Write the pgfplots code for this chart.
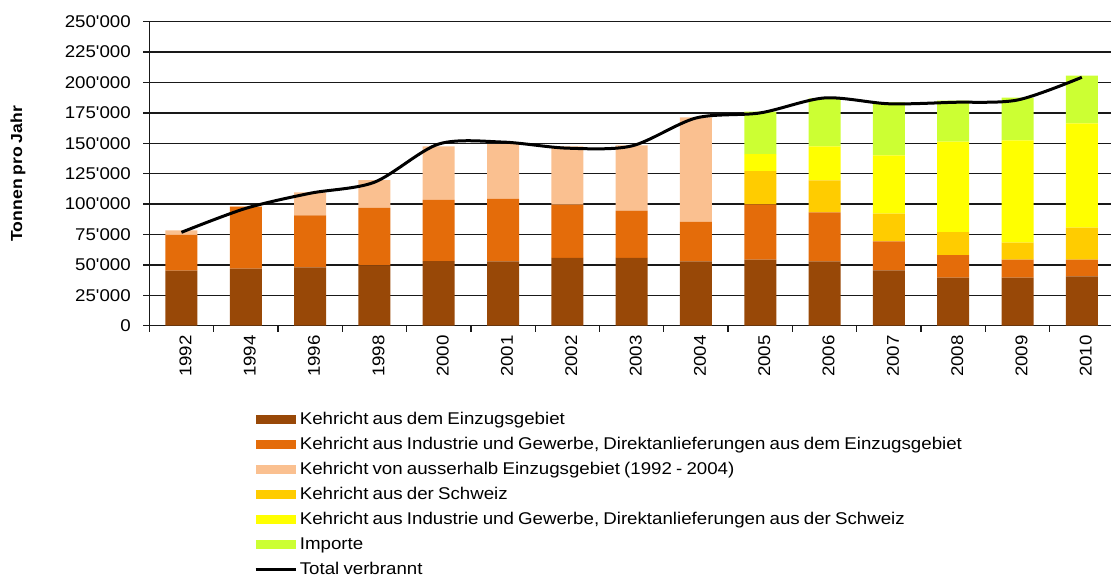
\documentclass[border=0pt]{standalone}
\usepackage{pgfplots}
\pgfplotsset{compat=1.18}
\usepackage{fontspec}
\setmainfont{Liberation Sans}[Ligatures=TeXOff, FakeStretch=1.1, WordSpace=0.8]
\definecolor{cA}{HTML}{984807}
\definecolor{cB}{HTML}{E46C0A}
\definecolor{cC}{HTML}{FAC090}
\definecolor{cD}{HTML}{FFCC00}
\definecolor{cE}{HTML}{FFFF00}
\definecolor{cF}{HTML}{CCFF33}
\begin{document}
\begin{tikzpicture}
\useasboundingbox (0,0) rectangle (1111pt,576pt);
\begin{axis}[
  at={(149.3pt,250.3pt)}, anchor=south west,
  scale only axis, width=964.7pt, height=304pt,
  ybar stacked, bar width=32pt,
  xmin=-0.5, xmax=14.5, ymin=0, ymax=250000,
  axis x line*=bottom, axis y line*=left,
  axis line style={black!90, line width=1.3pt},
  xtick={0,...,14},
  xticklabels={1992,1994,1996,1998,2000,2001,2002,2003,2004,2005,2006,2007,2008,2009,2010},
  minor xtick={-0.5,0.5,...,14.5},
  major x tick style={draw=none},
  minor x tick style={black!90, line width=1.3pt},
  y tick style={black!90, line width=1.3pt},
  tick align=outside, major tick length=6pt, minor tick length=6pt,
  ytick={0,25000,...,250000},
  scaled y ticks=false,
  ymajorgrids, grid style={black!90, line width=1.3pt},
  /pgf/number format/assume math mode=true,
  yticklabel style={/pgf/number format/fixed, /pgf/number format/1000 sep={'}, xshift=-9pt},
  tick label style={font=\fontsize{17}{20}\selectfont},
  xticklabel style={rotate=90, anchor=east, yshift=-4pt},
  ylabel={Tonnen pro Jahr},
  ylabel style={font=\bfseries\fontsize{16}{19}\selectfont, at={(axis description cs:-0.1361,0.5)}, anchor=center},
  legend image code/.code={\fill[#1] (0pt,-4.7pt) rectangle (40pt,4.7pt);},
  legend cell align=left,
  legend style={at={(axis description cs:0.1085,-0.2806)}, anchor=north west,
    draw=none, fill=none, inner sep=0pt, row sep=8pt, column sep=2.7pt,
    font=\fontsize{17}{20}\selectfont,
    nodes={inner xsep=0pt, inner ysep=0pt, text height=13pt, text depth=4pt}},
]
\addplot[fill=cA, draw=none] coordinates {(0,45230) (1,46870) (2,48000) (3,49700) (4,53200) (5,52950) (6,55700) (7,55700) (8,52950) (9,54300) (10,52950) (11,45550) (12,39500) (13,39500) (14,40600)};
\addlegendentry{Kehricht aus dem Einzugsgebiet}
\addplot[fill=cB, draw=none] coordinates {(0,29370) (1,50730) (2,42800) (3,47300) (4,50200) (5,51450) (6,43800) (7,38900) (8,32350) (9,45500) (10,40300) (11,23850) (12,18600) (13,14800) (14,13700)};
\addlegendentry{Kehricht aus Industrie und Gewerbe, Direktanlieferungen aus dem Einzugsgebiet}
\addplot[fill=cC, draw=none] coordinates {(0,3850) (1,800) (2,18900) (3,22800) (4,44100) (5,45000) (6,48000) (7,53700) (8,86100) (9,0) (10,0) (11,0) (12,0) (13,0) (14,0)};
\addlegendentry{Kehricht von ausserhalb Einzugsgebiet (1992 - 2004)}
\addplot[fill=cD, draw=none] coordinates {(0,0) (1,0) (2,0) (3,0) (4,0) (5,0) (6,0) (7,0) (8,0) (9,27400) (10,26300) (11,22700) (12,18900) (13,13950) (14,26300)};
\addlegendentry{Kehricht aus der Schweiz}
\addplot[fill=cE, draw=none] coordinates {(0,0) (1,0) (2,0) (3,0) (4,0) (5,0) (6,0) (7,0) (8,0) (9,13800) (10,27950) (11,48000) (12,74300) (13,84150) (14,85800)};
\addlegendentry{Kehricht aus Industrie und Gewerbe, Direktanlieferungen aus der Schweiz}
\addplot[fill=cF, draw=none] coordinates {(0,0) (1,0) (2,0) (3,0) (4,0) (5,0) (6,0) (7,0) (8,0) (9,35000) (10,39500) (11,43600) (12,33700) (13,35100) (14,39200)};
\addlegendentry{Importe}
\addlegendimage{legend image code/.code={\draw[black, line width=3pt] (0pt,0pt) -- (40pt,0pt);}}
\addlegendentry{Total verbrannt}
\end{axis}
\begin{axis}[
  at={(149.3pt,250.3pt)}, anchor=south west,
  scale only axis, width=964.7pt, height=304pt,
  xmin=-0.5, xmax=14.5, ymin=0, ymax=250000,
  hide axis,
]
\addplot[black, line width=3pt, smooth, tension=0.5] coordinates {(0,76800) (1,96500) (2,108900) (3,118000) (4,149400) (5,151000) (6,146000) (7,147800) (8,170800) (9,175000) (10,187300) (11,182500) (12,183700) (13,185600) (14,204300)};
\end{axis}
\end{tikzpicture}
\end{document}
